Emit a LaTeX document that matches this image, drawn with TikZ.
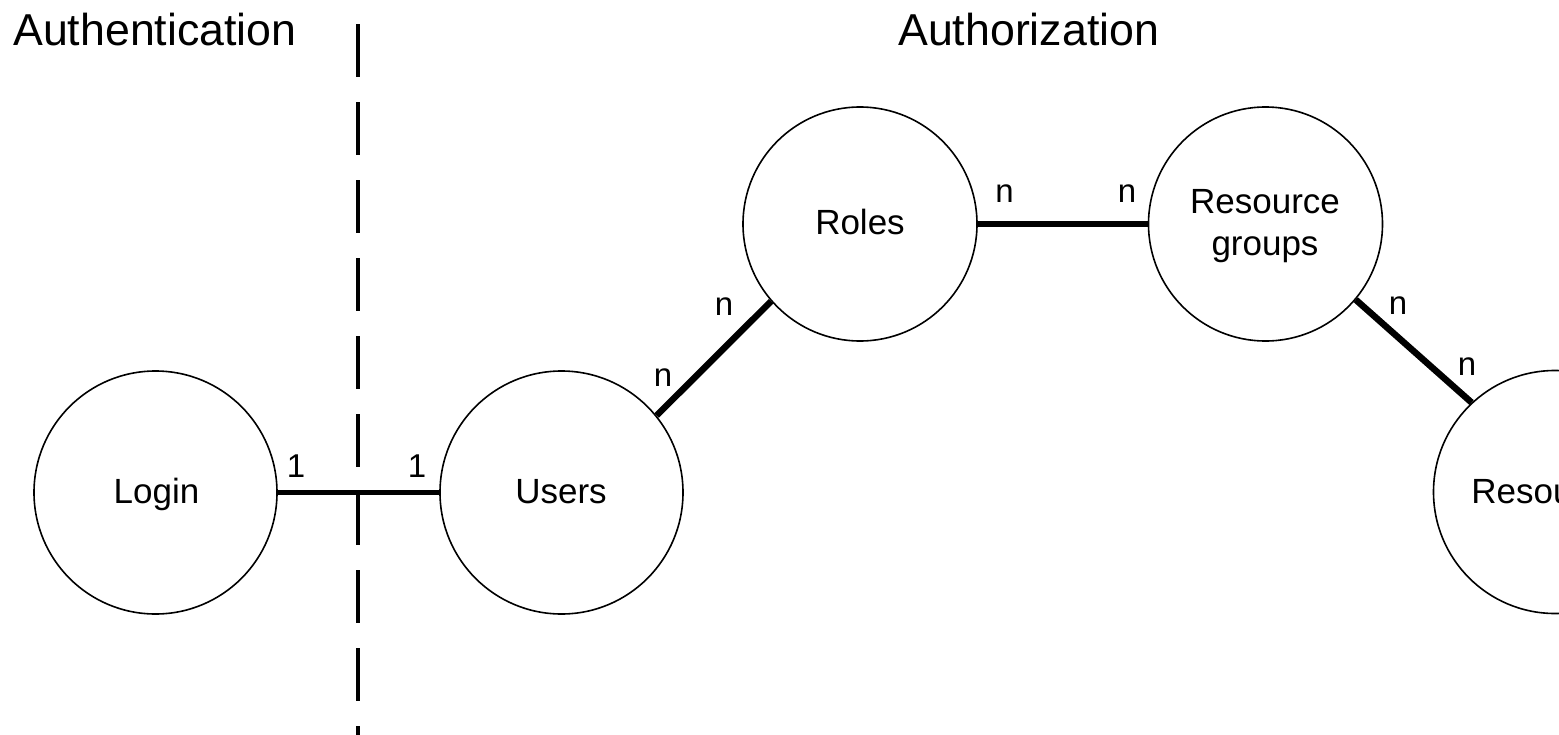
\documentclass[tikz,border=0pt]{standalone}
\usepackage{fontspec}
\setmainfont{Liberation Sans}
\begin{document}
\begin{tikzpicture}[x=1pt,y=-1pt,
  entity/.style={circle,draw=black,line width=1.6pt,inner sep=0pt,minimum size=243pt},
  small/.style={minimum size=234pt},
  ename/.style={anchor=base,inner sep=0pt,font=\fontsize{35}{42}\selectfont},
  title/.style={anchor=base west,inner sep=0pt,font=\fontsize{44.7}{50}\selectfont},
  card/.style={inner sep=0pt,font=\fontsize{33}{36}\selectfont},
  thinlink/.style={line width=4.5pt},
  thicklink/.style={line width=6.5pt},
  divider/.style={line width=4.5pt,dash pattern=on 53pt off 25pt}]
\useasboundingbox (0,0) rectangle (1559,734);
\clip (0,0) rectangle (1559,734);
% titles
\node[title] (tauth) at (13,45) {Authentication};
\node[title] (tautz) at (898,45) {Authorization};
% divider
\coordinate (dtop) at (358,24);
\coordinate (dbot) at (358,740);
\draw[divider] (dtop) -- (dbot);
% entities
\node[entity] (login) at (155.5,492.5) {};
\node[entity] (users) at (561.5,492.5) {};
\node[entity,small] (roles) at (860,224) {};
\node[entity,small] (rg) at (1265.5,224) {};
\node[entity] (res) at (1555,492) {};
% entity texts
\node[ename] (tlogin) at (156.5,503) {Login};
\node[ename] (tusers) at (561,503) {Users};
\node[ename] (troles) at (860,234) {Roles};
\node[ename] (trg1) at (1265,213) {Resource};
\node[ename] (trg2) at (1265,255) {groups};
\node[ename] (tres) at (1555,503) {Resources};
% connectors
\draw[thinlink] (login.east) -- (users.west);
\draw[thicklink] (users.39) -- (roles.221);
\draw[thicklink] (roles.east) -- (rg.west);
\draw[thicklink] (rg.320) -- (res.133);
% cardinalities
\node[card] (c1) at (296,466) {1};
\node[card] (c2) at (417,466) {1};
\node[card] (c3) at (663,378) {n};
\node[card] (c4) at (724,307) {n};
\node[card] (c5) at (1004.5,194) {n};
\node[card] (c6) at (1127,194) {n};
\node[card] (c7) at (1398,306) {n};
\node[card] (c8) at (1467,367) {n};
\end{tikzpicture}
\end{document}
